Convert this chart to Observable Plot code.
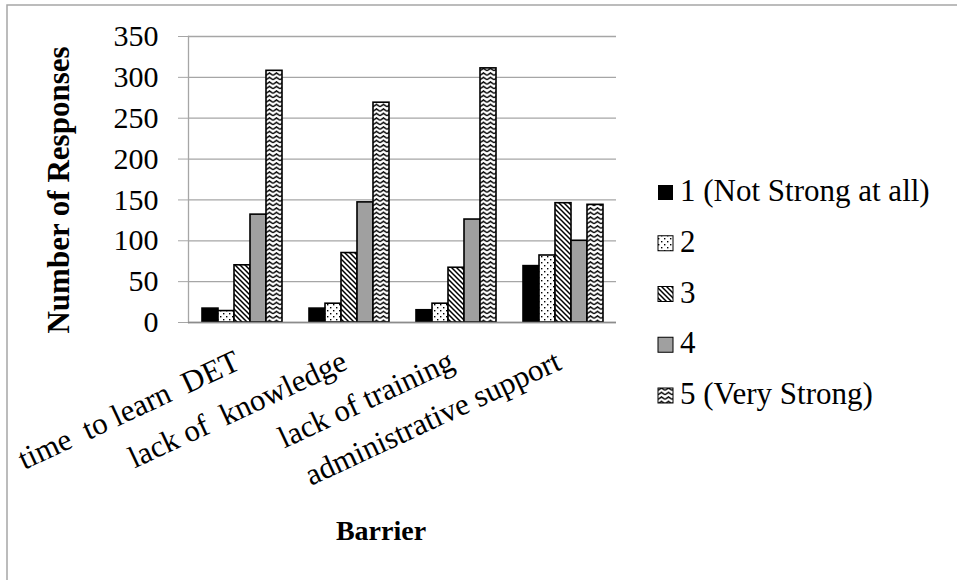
<!DOCTYPE html>
<html><head><meta charset="utf-8">
<script src="https://cdn.jsdelivr.net/npm/d3@7"></script>
<script src="https://cdn.jsdelivr.net/npm/@observablehq/plot@0.6"></script>
<style>
body{margin:0;background:#fff;}
#chart{position:relative;width:957px;height:580px;}
#chart svg text{font-family:"Liberation Serif",serif !important;white-space:pre;}
</style></head><body>
<svg width="0" height="0" style="position:absolute">
<defs>
<pattern id="p2" patternUnits="userSpaceOnUse" width="6" height="6">
<rect width="6" height="6" fill="#fff"/>
<rect x="1" y="1" width="1.4" height="1.4" fill="#000"/>
<rect x="4" y="4" width="1.4" height="1.4" fill="#000"/>
</pattern>
<pattern id="p3" patternUnits="userSpaceOnUse" width="5" height="5">
<rect width="5" height="5" fill="#fff"/>
<path d="M-1,-1L6,6M-1,4L1,6M4,-1L6,1" stroke="#000" stroke-width="1.5"/>
</pattern>
<pattern id="p5" patternUnits="userSpaceOnUse" width="7" height="4.5">
<rect width="7" height="4.5" fill="#fff"/>
<path d="M0,3.3L3.5,0.9L7,3.3" stroke="#000" stroke-width="1.5" fill="none"/>
</pattern>
</defs></svg>
<div id="chart"></div>
<script>
const barriers = ["time  to learn  DET", "lack of  knowledge", "lack of training", "administrative support"];
const levels = ["1 (Not Strong at all)", "2", "3", "4", "5 (Very Strong)"];
const level1 = [17, 17, 15, 69];
const level2 = [14, 23, 23, 82];
const level3 = [70, 85, 67, 146];
const level4 = [132, 147, 126, 100];
const level5 = [308, 269, 311, 144];
const yTicks = [0, 50, 100, 150, 200, 250, 300, 350];
const fills = ["#000000", "url(#p2)", "url(#p3)", "#a0a0a0", "url(#p5)"];

const series = [level1, level2, level3, level4, level5];
const data = [];
barriers.forEach((b, i) => levels.forEach((l, j) => data.push({barrier: b, level: l, value: series[j][i]})));

const serif = "Liberation Serif, serif";
const chart = Plot.plot({
  width: 957, height: 580,
  marginLeft: 188, marginRight: 341, marginTop: 36, marginBottom: 258,
  style: {fontFamily: serif, fontSize: "30px", background: "transparent", overflow: "visible"},
  fx: {domain: barriers, paddingInner: 0, paddingOuter: 0, label: null},
  x: {domain: levels, paddingInner: 0, paddingOuter: 0.72, axis: null},
  y: {domain: [0, 350], label: null},
  color: {type: "ordinal", domain: levels, range: fills},
  marks: [
    Plot.gridY(yTicks, {stroke: "#a6a6a6", strokeOpacity: 1, strokeWidth: 1.3}),
    Plot.frame({anchor: "left", stroke: "#a6a6a6", strokeWidth: 1.3, facetAnchor: "left"}),
    Plot.barY(data, {fx: "barrier", x: "level", y: "value", fill: "level", stroke: "#000", strokeWidth: 1.6}),
    Plot.ruleY([0], {stroke: "#8c8c8c", strokeWidth: 1.6}),
    Plot.axisY(yTicks, {tickSize: 10, tickPadding: 20, fontSize: 30, fontFamily: serif, stroke: "#a6a6a6", strokeOpacity: 1, label: null}),
    Plot.axisFx({anchor: "bottom", tickRotate: -25, tickSize: 0, tickPadding: 46, textAnchor: "end", lineAnchor: "bottom", fontSize: 31, fontFamily: serif, label: null})
  ]
});
document.getElementById("chart").appendChild(chart);

const svg = d3.select(chart);
// outer border
svg.append("path").attr("d", "M7,580V5H957").attr("fill", "none").attr("stroke", "#a6a6a6").attr("stroke-width", 1.5);
// axis titles
svg.append("text").attr("transform", "translate(69,190) rotate(-90)").attr("text-anchor", "middle")
  .attr("font-family", serif).attr("font-weight", "bold").attr("font-size", 31).attr("fill", "#000").text("Number of Responses");
svg.append("text").attr("x", 381).attr("y", 540).attr("text-anchor", "middle")
  .attr("font-family", serif).attr("font-weight", "bold").attr("font-size", 28).attr("fill", "#000").text("Barrier");
// legend
const lg = svg.append("g").attr("text-anchor", "start");
levels.forEach((l, i) => {
  const top = 185 + i * 50.75;
  lg.append("rect").attr("x", 658).attr("y", top).attr("width", 15).attr("height", 15)
    .attr("fill", fills[i]).attr("stroke", i === 0 ? "none" : "#000").attr("stroke-width", 1);
  lg.append("text").attr("x", 680).attr("y", top + 16).attr("text-anchor", "start")
    .attr("font-family", serif).attr("font-size", 31).attr("fill", "#000").text(l);
});
</script>
</body></html>
